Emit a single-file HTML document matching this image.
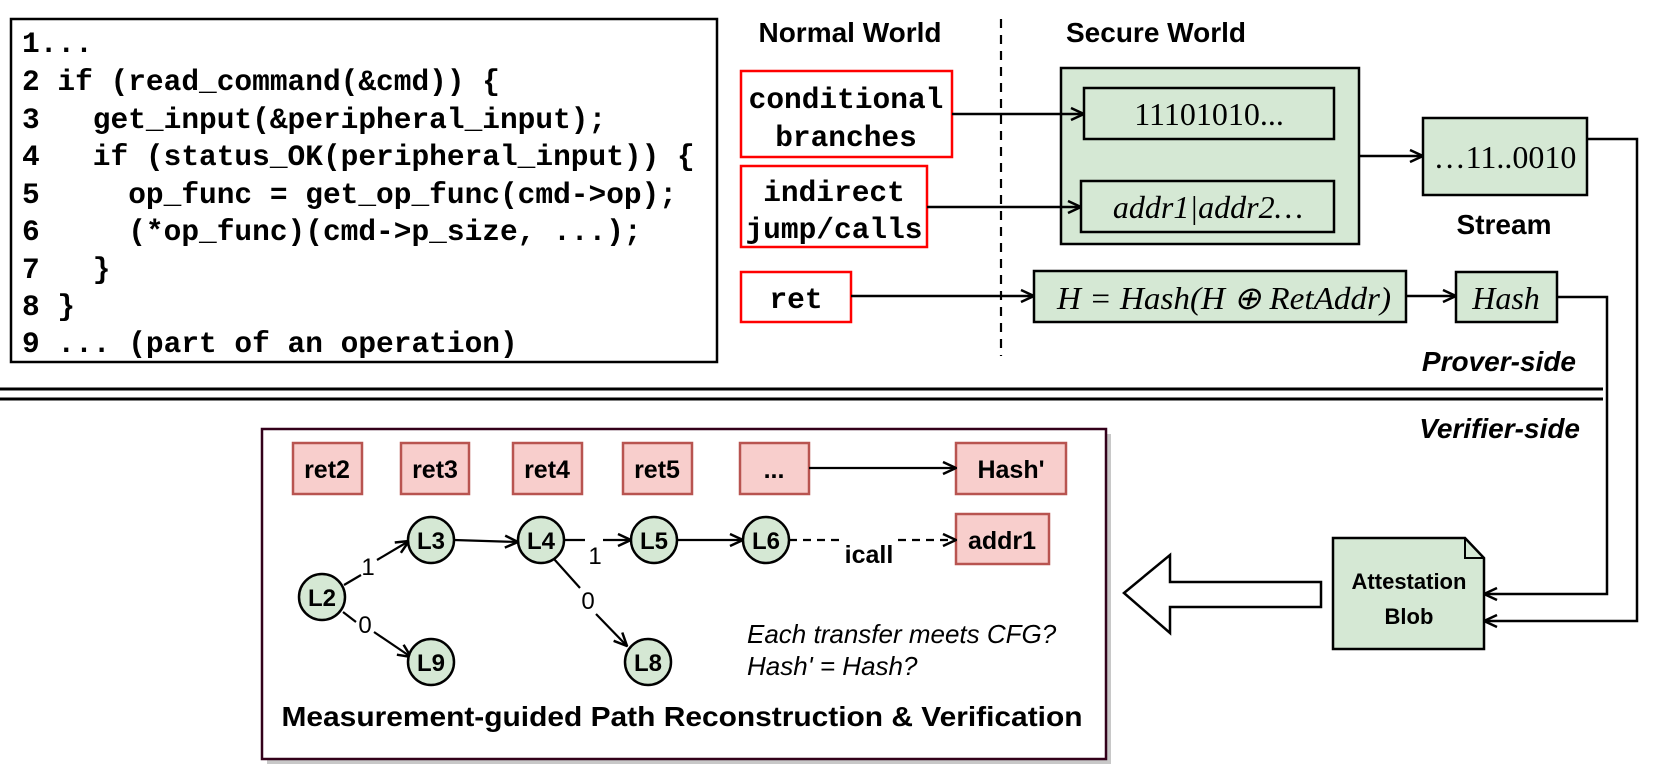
<!DOCTYPE html>
<html><head><meta charset="utf-8"><style>
html,body{margin:0;padding:0;background:#fff}
svg{display:block}
.code{font-family:"Liberation Mono",monospace;font-weight:bold;font-size:29.5px}
.bs{font-family:"Liberation Sans",sans-serif;font-weight:bold}
.rs{font-family:"Liberation Sans",sans-serif}
.sf{font-family:"Liberation Serif",serif;font-size:30px}
</style></head><body>
<svg width="1660" height="773" viewBox="0 0 1660 773" xmlns="http://www.w3.org/2000/svg">
<defs>
<marker id="a" viewBox="0 0 16 16" refX="15" refY="8" markerWidth="16" markerHeight="16" markerUnits="userSpaceOnUse" orient="auto">
<polyline points="2,2 15,8 2,14" fill="none" stroke="#000" stroke-width="2.5"/>
</marker>
</defs>
<g fill="none" stroke="#000" stroke-width="2.5">
<rect x="11" y="19" width="706" height="343"/>
</g>
<g class="code" fill="#000">
<text x="22" y="52" xml:space="preserve">1...</text>
<text x="22" y="90" xml:space="preserve">2 if (read_command(&amp;cmd)) {</text>
<text x="22" y="128" xml:space="preserve">3   get_input(&amp;peripheral_input);</text>
<text x="22" y="165" xml:space="preserve">4   if (status_OK(peripheral_input)) {</text>
<text x="22" y="203" xml:space="preserve">5     op_func = get_op_func(cmd-&gt;op);</text>
<text x="22" y="240" xml:space="preserve">6     (*op_func)(cmd-&gt;p_size, ...);</text>
<text x="22" y="278" xml:space="preserve">7   }</text>
<text x="22" y="315" xml:space="preserve">8 }</text>
<text x="22" y="352" xml:space="preserve">9 ... (part of an operation)</text>
</g>
<text class="bs" x="850" y="42" font-size="28" text-anchor="middle">Normal World</text>
<text class="bs" x="1156" y="42" font-size="28" text-anchor="middle">Secure World</text>
<line x1="1001" y1="19" x2="1001" y2="356" stroke="#000" stroke-width="2.2" stroke-dasharray="9,7"/>
<g fill="#fff" stroke="#f00" stroke-width="2.5">
<rect x="741" y="71" width="211" height="86"/>
<rect x="741" y="166" width="186" height="81"/>
<rect x="741" y="272" width="110" height="50"/>
</g>
<g class="code" fill="#000" text-anchor="middle">
<text x="846" y="108">conditional</text>
<text x="846" y="146">branches</text>
<text x="834" y="201">indirect</text>
<text x="834" y="238">jump/calls</text>
<text x="796" y="308">ret</text>
</g>
<g stroke="#000" stroke-width="2.5" fill="#d5e8d4">
<rect x="1061" y="68" width="298" height="176"/>
<rect x="1084" y="88" width="250" height="51"/>
<rect x="1081" y="181" width="253" height="51"/>
<rect x="1423" y="118" width="164" height="77"/>
<rect x="1034" y="271" width="372" height="51"/>
<rect x="1456" y="272" width="101" height="50"/>
</g>
<g class="sf" fill="#000" text-anchor="middle">
<text x="1209" y="125" font-size="32">11101010...</text>
<text x="1208" y="218" font-style="italic" font-size="32">addr1|addr2…</text>
<text x="1505" y="168" font-size="32">…11..0010</text>
<text x="1224" y="309" font-style="italic" font-size="32" textLength="334" lengthAdjust="spacingAndGlyphs">H = Hash(H ⊕ RetAddr)</text>
<text x="1506" y="309" font-style="italic" font-size="32">Hash</text>
</g>
<text class="bs" x="1504" y="234" font-size="28" text-anchor="middle">Stream</text>
<text class="bs" x="1576" y="371" font-size="28" font-style="italic" text-anchor="end">Prover-side</text>
<text class="bs" x="1580" y="438" font-size="28" font-style="italic" text-anchor="end">Verifier-side</text>
<g fill="none" stroke="#000" stroke-width="2.5">
<line x1="952" y1="114" x2="1084" y2="114" marker-end="url(#a)"/>
<line x1="927" y1="207" x2="1081" y2="207" marker-end="url(#a)"/>
<line x1="851" y1="296" x2="1034" y2="296" marker-end="url(#a)"/>
<line x1="1359" y1="156" x2="1423" y2="156" marker-end="url(#a)"/>
<line x1="1406" y1="296" x2="1456" y2="296" marker-end="url(#a)"/>
<polyline points="1587,139 1637,139 1637,621 1484,621" marker-end="url(#a)"/>
<polyline points="1557,297 1607,297 1607,594 1484,594" marker-end="url(#a)"/>
<line x1="0" y1="389" x2="1603" y2="389" stroke-width="3"/>
<line x1="0" y1="399" x2="1603" y2="399" stroke-width="3"/>
</g>
<rect x="267" y="434" width="844" height="330" fill="#c8c8c8"/>
<rect x="262" y="429" width="844" height="330" fill="#fff" stroke="#33001a" stroke-width="2.5"/>
<g fill="#f8cecc" stroke="#b85450" stroke-width="2.5">
<rect x="293" y="443" width="69" height="51"/>
<rect x="401" y="443" width="68" height="51"/>
<rect x="513" y="443" width="69" height="51"/>
<rect x="623" y="443" width="69" height="51"/>
<rect x="740" y="443" width="69" height="51"/>
<rect x="956" y="443" width="110" height="51"/>
<rect x="956" y="514" width="93" height="50"/>
</g>
<g class="bs" font-size="25" fill="#000" text-anchor="middle">
<text x="327" y="478">ret2</text>
<text x="435" y="478">ret3</text>
<text x="547" y="478">ret4</text>
<text x="657" y="478">ret5</text>
<text x="774" y="478">...</text>
<text x="1011" y="478">Hash'</text>
<text x="1002" y="549">addr1</text>
<text x="869" y="563">icall</text>
</g>
<g fill="none" stroke="#000" stroke-width="2.2">
<line x1="809" y1="468" x2="956" y2="468" marker-end="url(#a)"/>
<line x1="344" y1="585" x2="361" y2="575"/>
<line x1="377" y1="560" x2="409" y2="541" marker-end="url(#a)"/>
<line x1="343" y1="612" x2="356" y2="622"/>
<line x1="374" y1="632" x2="411" y2="657" marker-end="url(#a)"/>
<line x1="454" y1="540" x2="518" y2="542" marker-end="url(#a)"/>
<line x1="564" y1="540" x2="585" y2="540"/>
<line x1="603" y1="540" x2="631" y2="540" marker-end="url(#a)"/>
<line x1="677" y1="540" x2="743" y2="540" marker-end="url(#a)"/>
<line x1="554" y1="559" x2="580" y2="588"/>
<line x1="596" y1="614" x2="627" y2="646" marker-end="url(#a)"/>
<line x1="789" y1="540" x2="840" y2="540" stroke-dasharray="8,6"/>
<line x1="898" y1="540" x2="956" y2="540" stroke-dasharray="8,6" marker-end="url(#a)"/>
</g>
<g fill="#d5e8d4" stroke="#000" stroke-width="2.5">
<ellipse cx="322" cy="597" rx="23" ry="23"/>
<ellipse cx="431" cy="540" rx="23" ry="23"/>
<ellipse cx="541" cy="540" rx="23" ry="23"/>
<ellipse cx="654" cy="540" rx="23" ry="23"/>
<ellipse cx="766" cy="540" rx="23" ry="23"/>
<ellipse cx="431" cy="662" rx="23" ry="23"/>
<ellipse cx="648" cy="662" rx="23" ry="23"/>
</g>
<g class="bs" font-size="24" fill="#000" text-anchor="middle">
<text x="322" y="606">L2</text>
<text x="431" y="549">L3</text>
<text x="541" y="549">L4</text>
<text x="654" y="549">L5</text>
<text x="766" y="549">L6</text>
<text x="431" y="671">L9</text>
<text x="648" y="671">L8</text>
</g>
<g class="rs" font-size="24" fill="#000" text-anchor="middle">
<text x="368" y="575">1</text>
<text x="365" y="633">0</text>
<text x="595" y="564">1</text>
<text x="588" y="609">0</text>
</g>
<g class="rs" font-size="26" font-style="italic" fill="#000">
<text x="747" y="643">Each transfer meets CFG?</text>
<text x="747" y="675">Hash' = Hash?</text>
</g>
<text class="bs" x="682" y="726" font-size="28" text-anchor="middle" textLength="801" lengthAdjust="spacingAndGlyphs">Measurement-guided Path Reconstruction &amp; Verification</text>
<polygon points="1124,593 1170,555 1170,582 1321,582 1321,607 1170,607 1170,633" fill="#fff" stroke="#000" stroke-width="2.5"/>
<path d="M1333,538 L1465,538 L1484,558 L1484,649 L1333,649 Z" fill="#d5e8d4" stroke="#000" stroke-width="2.5"/>
<path d="M1465,538 L1465,558 L1484,558" fill="none" stroke="#000" stroke-width="2"/>
<text class="bs" x="1409" y="589" font-size="22" text-anchor="middle">Attestation</text>
<text class="bs" x="1409" y="624" font-size="22" text-anchor="middle">Blob</text>
</svg>
</body></html>
